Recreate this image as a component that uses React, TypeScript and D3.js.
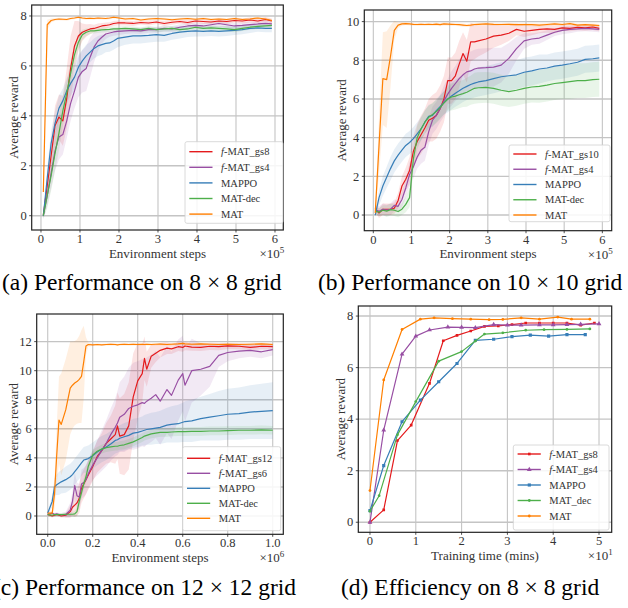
import React, { useEffect, useRef } from 'react'
import * as d3 from 'd3'

const RED = '#e41a1c', PURPLE = '#984ea3', BLUE = '#377eb8', GREEN = '#4daf4a', ORANGE = '#ff7f00'
const FONT = '"Liberation Serif", "Times New Roman", "DejaVu Serif", serif'

// (a) 8x8 grid, environment steps in 1e5
const stepsA = [0.06, 0.16, 0.26, 0.36, 0.46, 0.56, 0.66, 0.76, 0.86, 0.96, 1.06, 1.16, 1.26, 1.36, 1.46, 1.56, 1.66, 1.76, 1.86, 1.96,
  2.16, 2.36, 2.56, 2.76, 2.96, 3.16, 3.36, 3.56, 3.76, 3.96, 4.16, 4.36, 4.56, 4.76, 4.96, 5.16, 5.36, 5.56, 5.76, 5.92]
const gs8A = [0.03, 1.2, 2.4, 3.6, 3.95, 3.8, 4.7, 5.9, 6.8, 7.2, 7.35, 7.42, 7.48, 7.5, 7.55, 7.6, 7.62, 7.65, 7.7, 7.72,
  7.72, 7.7, 7.74, 7.72, 7.76, 7.7, 7.75, 7.78, 7.74, 7.8, 7.78, 7.76, 7.8, 7.78, 7.82, 7.8, 7.84, 7.8, 7.86, 7.8]
const gs8ASd = [0.1, 0.4, 0.6, 0.8, 0.9, 1.0, 1.2, 1.3, 1.0, 0.6, 0.35, 0.25, 0.2, 0.15, 0.15, 0.12, 0.12, 0.1, 0.1, 0.1,
  0.1, 0.1, 0.08, 0.1, 0.08, 0.1, 0.1, 0.08, 0.1, 0.08, 0.1, 0.08, 0.1, 0.1, 0.08, 0.1, 0.1, 0.08, 0.1, 0.1]
const gs4A = [0, 0.8, 1.7, 2.6, 3.15, 3.25, 3.8, 4.5, 5.0, 5.55, 5.78, 5.9, 6.35, 6.75, 7.0, 7.15, 7.28, 7.32, 7.36, 7.38,
  7.4, 7.42, 7.4, 7.45, 7.45, 7.5, 7.48, 7.55, 7.6, 7.62, 7.6, 7.65, 7.7, 7.65, 7.6, 7.62, 7.65, 7.68, 7.7, 7.68]
const gs4ASd = [0.15, 0.4, 0.6, 0.8, 0.9, 0.8, 0.7, 0.7, 0.7, 0.8, 0.85, 0.9, 0.8, 0.6, 0.4, 0.25, 0.2, 0.15, 0.15, 0.15,
  0.12, 0.12, 0.12, 0.12, 0.12, 0.12, 0.12, 0.12, 0.12, 0.12, 0.12, 0.12, 0.12, 0.12, 0.12, 0.12, 0.12, 0.12, 0.12, 0.12]
const mappoA = [0, 1.5, 2.9, 3.7, 4.3, 4.6, 5.0, 5.3, 5.55, 5.95, 6.2, 6.4, 6.55, 6.7, 6.8, 6.85, 6.9, 6.92, 7.0, 7.1,
  7.15, 7.2, 7.2, 7.22, 7.25, 7.22, 7.3, 7.35, 7.38, 7.4, 7.38, 7.4, 7.38, 7.4, 7.42, 7.45, 7.5, 7.52, 7.5, 7.5]
const mappoASd = [0.1, 0.4, 0.5, 0.5, 0.5, 0.5, 0.5, 0.5, 0.5, 0.5, 0.45, 0.45, 0.4, 0.4, 0.4, 0.4, 0.35, 0.35, 0.35, 0.35,
  0.3, 0.3, 0.3, 0.28, 0.28, 0.25, 0.25, 0.25, 0.22, 0.22, 0.2, 0.2, 0.2, 0.2, 0.18, 0.18, 0.18, 0.15, 0.15, 0.15]
const decA = [0, 0.8, 1.6, 2.5, 3.3, 4.2, 4.9, 5.7, 6.45, 6.95, 7.25, 7.35, 7.4, 7.4, 7.42, 7.44, 7.45, 7.46, 7.48, 7.48,
  7.5, 7.48, 7.45, 7.5, 7.45, 7.48, 7.5, 7.45, 7.48, 7.55, 7.5, 7.52, 7.5, 7.48, 7.45, 7.5, 7.55, 7.58, 7.6, 7.62]
const decASd = [0.1, 0.5, 0.6, 0.7, 0.7, 0.6, 0.5, 0.5, 0.4, 0.3, 0.2, 0.15, 0.12, 0.1, 0.1, 0.1, 0.1, 0.1, 0.1, 0.1,
  0.1, 0.1, 0.1, 0.1, 0.1, 0.1, 0.1, 0.1, 0.1, 0.1, 0.1, 0.1, 0.1, 0.1, 0.1, 0.1, 0.1, 0.1, 0.1, 0.1]
const matA = [0.95, 7.65, 7.82, 7.86, 7.88, 7.87, 7.86, 7.9, 7.92, 7.95, 7.92, 7.9, 7.91, 7.9, 7.92, 7.91, 7.9, 7.92, 7.95, 7.93,
  7.88, 7.9, 7.84, 7.88, 7.9, 7.88, 7.85, 7.88, 7.9, 7.87, 7.9, 7.86, 7.88, 7.86, 7.9, 7.86, 7.88, 7.92, 7.88, 7.82]
const matASd = [0.3, 0.2, 0.08, 0.05, 0.05, 0.05, 0.05, 0.05, 0.05, 0.05, 0.05, 0.05, 0.05, 0.05, 0.05, 0.05, 0.05, 0.05, 0.05, 0.05,
  0.05, 0.05, 0.05, 0.05, 0.05, 0.05, 0.05, 0.05, 0.05, 0.05, 0.05, 0.05, 0.05, 0.05, 0.05, 0.05, 0.05, 0.05, 0.05, 0.05]

// (b) 10x10 grid
const stepsB = [0.05, 0.15, 0.25, 0.35, 0.45, 0.55, 0.65, 0.75, 0.85, 0.95, 1.05, 1.15, 1.25, 1.35, 1.45, 1.55, 1.65, 1.75, 1.85, 1.95,
  2.05, 2.15, 2.25, 2.35, 2.45, 2.55, 2.65, 2.75, 2.95, 3.15, 3.35, 3.55, 3.75, 3.95, 4.15, 4.35, 4.55, 4.75, 4.95, 5.15, 5.35, 5.55, 5.75, 5.92]
const gs10B = [0.35, 0.1, 0.3, 0.3, 0.3, 0.35, 0.75, 1.5, 1.85, 2.3, 3.3, 3.8, 4.15, 4.5, 4.9, 5.0, 5.15, 5.5, 6.0, 6.95,
  6.95, 7.2, 7.8, 8.35, 7.95, 8.95, 8.95, 9.0, 9.1, 9.25, 9.3, 9.4, 9.6, 9.5, 9.55, 9.6, 9.62, 9.6, 9.68, 9.65, 9.7, 9.68, 9.72, 9.65]
const gs10BSd = [0.2, 0.25, 0.3, 0.3, 0.3, 0.3, 0.4, 0.5, 0.6, 0.7, 0.8, 0.9, 1.0, 1.0, 1.1, 1.2, 1.2, 1.2, 1.2, 1.2,
  1.2, 1.2, 1.2, 1.1, 1.1, 1.0, 0.9, 0.8, 0.7, 0.6, 0.5, 0.4, 0.3, 0.3, 0.25, 0.2, 0.2, 0.2, 0.15, 0.15, 0.15, 0.15, 0.15, 0.15]
const gs4B = [0.25, 0.2, 0.3, 0.25, 0.3, 0.5, 0.45, 0.8, 1.4, 2.1, 2.5, 3.0, 3.35, 3.5, 4.3, 4.9, 5.15, 5.5, 5.9, 6.25,
  6.55, 6.8, 7.05, 7.25, 7.4, 7.45, 7.55, 7.6, 7.62, 7.65, 7.75, 8.1, 8.6, 9.0, 9.1, 9.15, 9.3, 9.45, 9.55, 9.6, 9.62, 9.65, 9.62, 9.6]
const gs4BSd = [0.2, 0.25, 0.3, 0.3, 0.3, 0.3, 0.3, 0.4, 0.5, 0.6, 0.6, 0.6, 0.7, 0.7, 0.7, 0.7, 0.7, 0.7, 0.8, 0.8,
  0.9, 0.9, 1.0, 1.0, 1.0, 1.0, 1.0, 1.0, 1.0, 1.0, 0.9, 0.8, 0.6, 0.4, 0.3, 0.3, 0.25, 0.2, 0.2, 0.2, 0.15, 0.15, 0.15, 0.15]
const mappoB = [0, 0.9, 1.5, 1.95, 2.4, 2.8, 3.1, 3.35, 3.6, 3.75, 3.95, 4.2, 4.45, 4.8, 5.1, 5.15, 5.4, 5.6, 5.8, 6.0,
  6.15, 6.3, 6.42, 6.55, 6.65, 6.75, 6.82, 6.88, 6.95, 7.05, 7.15, 7.2, 7.25, 7.38, 7.45, 7.55, 7.6, 7.7, 7.75, 7.82, 7.9, 8.05, 8.08, 8.12]
const mappoBSd = [0.1, 0.4, 0.5, 0.55, 0.6, 0.6, 0.6, 0.6, 0.6, 0.6, 0.6, 0.6, 0.6, 0.6, 0.6, 0.6, 0.6, 0.6, 0.6, 0.7,
  0.7, 0.7, 0.7, 0.7, 0.7, 0.75, 0.75, 0.75, 0.75, 0.75, 0.75, 0.75, 0.75, 0.75, 0.75, 0.75, 0.7, 0.7, 0.7, 0.7, 0.7, 0.7, 0.7, 0.7]
const decB = [0.2, 0.15, 0.25, 0.2, 0.28, 0.25, 0.18, 0.3, 0.55, 0.9, 2.9, 4.0, 4.45, 4.8, 5.05, 5.2, 5.35, 5.55, 5.8, 6.0,
  6.1, 6.15, 6.22, 6.28, 6.35, 6.45, 6.55, 6.58, 6.6, 6.55, 6.45, 6.38, 6.45, 6.55, 6.62, 6.65, 6.72, 6.8, 6.85, 6.9, 6.95, 6.95, 7.0, 7.02]
const decBSd = [0.15, 0.2, 0.25, 0.3, 0.3, 0.3, 0.3, 0.3, 0.4, 0.5, 0.6, 0.6, 0.6, 0.6, 0.6, 0.6, 0.6, 0.6, 0.6, 0.6,
  0.7, 0.7, 0.7, 0.7, 0.75, 0.75, 0.8, 0.8, 0.8, 0.8, 0.8, 0.8, 0.8, 0.8, 0.8, 0.85, 0.85, 0.85, 0.85, 0.9, 0.9, 0.9, 0.9, 0.9]
const matB = [0.1, 3.6, 7.05, 7.0, 8.2, 9.55, 9.82, 9.88, 9.9, 9.88, 9.86, 9.85, 9.86, 9.85, 9.86, 9.85, 9.87, 9.84, 9.88, 9.87,
  9.86, 9.85, 9.84, 9.82, 9.8, 9.82, 9.85, 9.86, 9.88, 9.86, 9.85, 9.86, 9.84, 9.85, 9.84, 9.82, 9.85, 9.88, 9.85, 9.9, 9.82, 9.84, 9.82, 9.8]
const matBSd = [0.1, 1.5, 2.4, 2.5, 1.6, 0.5, 0.15, 0.1, 0.08, 0.08, 0.08, 0.08, 0.08, 0.08, 0.08, 0.08, 0.08, 0.08, 0.08, 0.08,
  0.08, 0.08, 0.08, 0.08, 0.08, 0.08, 0.08, 0.08, 0.08, 0.08, 0.08, 0.08, 0.08, 0.08, 0.08, 0.08, 0.08, 0.08, 0.08, 0.08, 0.08, 0.08, 0.08, 0.08]

// (c) 12x12 grid, environment steps in 1e6
const stepsC = [0.0, 0.02, 0.03, 0.04, 0.05, 0.06, 0.08, 0.10, 0.11, 0.12, 0.13, 0.14, 0.15, 0.16, 0.17, 0.18,
  0.20, 0.22, 0.24, 0.26, 0.28, 0.30, 0.31, 0.32, 0.34, 0.36, 0.38, 0.40, 0.42, 0.43, 0.44, 0.46,
  0.48, 0.50, 0.53, 0.55, 0.58, 0.60, 0.61, 0.64, 0.68, 0.72, 0.76, 0.80, 0.85, 0.90, 0.95, 1.0]
const gs12C = [0.1, 0.0, 0.05, 0.1, 0.05, 0.0, 0.05, 0.3, 0.6, 0.75, 0.9, 1.2, 1.9, 2.2, 2.5, 2.8,
  3.4, 4.1, 4.5, 5.0, 5.3, 5.6, 6.2, 5.5, 5.6, 6.2, 8.2, 9.3, 9.8, 10.85, 10.1, 11.0,
  11.2, 11.4, 11.55, 11.5, 11.65, 11.6, 11.7, 11.62, 11.6, 11.68, 11.65, 11.7, 11.68, 11.6, 11.68, 11.65]
const gs12CSd = [0.1, 0.1, 0.1, 0.1, 0.1, 0.1, 0.15, 0.4, 0.6, 0.8, 0.9, 1.0, 1.0, 1.0, 1.0, 1.0,
  1.0, 1.1, 1.2, 1.4, 1.6, 2.0, 2.3, 2.6, 2.8, 3.0, 3.0, 2.6, 2.0, 1.5, 1.2, 0.8,
  0.6, 0.5, 0.4, 0.35, 0.3, 0.3, 0.3, 0.25, 0.25, 0.25, 0.25, 0.2, 0.2, 0.2, 0.2, 0.2]
const gs6C = [0.1, 0.2, 0.1, 0.15, 0.1, 0.1, 0.1, 0.4, 1.0, 2.1, 1.4, 1.3, 2.2, 2.3, 2.5, 2.9,
  3.5, 4.0, 4.5, 5.0, 5.6, 6.1, 6.4, 6.8, 7.0, 7.4, 7.55, 7.65, 7.8, 7.75, 7.9, 8.1,
  8.35, 7.9, 8.7, 8.3, 9.35, 9.8, 9.0, 10.0, 10.1, 10.3, 11.05, 11.25, 11.35, 11.4, 11.3, 11.45]
const gs6CSd = [0.1, 0.1, 0.1, 0.1, 0.1, 0.1, 0.2, 0.5, 0.7, 0.9, 0.9, 0.9, 1.0, 1.0, 1.0, 1.0,
  1.0, 1.2, 1.4, 1.6, 1.8, 2.0, 2.2, 2.4, 2.6, 2.8, 3.0, 3.0, 3.0, 3.0, 3.0, 3.0,
  3.0, 3.0, 3.0, 3.0, 2.8, 2.6, 2.5, 2.2, 1.8, 1.4, 0.8, 0.6, 0.5, 0.45, 0.45, 0.4]
const mappoC = [0.2, 1.0, 2.0, 2.15, 2.25, 2.35, 2.5, 2.7, 2.85, 3.05, 3.25, 3.45, 3.65, 3.85, 3.9, 3.95,
  4.15, 4.4, 4.6, 4.75, 4.95, 5.2, 5.25, 5.35, 5.45, 5.55, 5.7, 5.75, 5.85, 5.9, 5.95, 6.0,
  6.05, 6.1, 6.25, 6.3, 6.35, 6.45, 6.5, 6.55, 6.7, 6.8, 6.9, 7.0, 7.05, 7.15, 7.2, 7.25]
const mappoCSd = [0.1, 0.4, 0.6, 0.7, 0.8, 0.8, 0.9, 0.9, 0.9, 0.9, 0.9, 0.9, 0.9, 0.9, 0.9, 0.9,
  0.9, 0.9, 0.9, 0.9, 0.9, 0.9, 0.9, 0.9, 0.95, 0.95, 1.0, 1.0, 1.0, 1.05, 1.05, 1.1,
  1.1, 1.15, 1.2, 1.25, 1.3, 1.35, 1.4, 1.45, 1.5, 1.6, 1.7, 1.75, 1.8, 1.85, 1.9, 1.95]
const decC = [0.1, 0.05, 0.1, 0.1, 0.1, 0.1, 0.12, 0.12, 0.12, 0.15, 0.3, 1.0, 1.6, 2.2, 2.7, 3.4,
  4.2, 4.45, 4.6, 4.7, 4.75, 4.8, 4.8, 4.85, 4.9, 5.0, 5.1, 5.25, 5.4, 5.5, 5.55, 5.65,
  5.7, 5.75, 5.75, 5.78, 5.8, 5.8, 5.8, 5.82, 5.82, 5.85, 5.85, 5.88, 5.9, 5.9, 5.92, 5.9]
const decCSd = [0.1, 0.1, 0.1, 0.1, 0.1, 0.1, 0.1, 0.1, 0.15, 0.2, 0.3, 0.4, 0.4, 0.4, 0.4, 0.4,
  0.35, 0.3, 0.3, 0.3, 0.3, 0.3, 0.3, 0.3, 0.3, 0.3, 0.3, 0.3, 0.3, 0.3, 0.3, 0.3,
  0.3, 0.3, 0.3, 0.3, 0.3, 0.3, 0.3, 0.3, 0.3, 0.3, 0.3, 0.3, 0.3, 0.3, 0.3, 0.3]
const matC = [0.2, 0.2, 1.5, 4.2, 6.6, 6.3, 7.3, 8.8, 9.0, 9.15, 9.25, 9.4, 9.6, 10.6, 11.7, 11.8,
  11.78, 11.8, 11.78, 11.8, 11.82, 11.8, 11.78, 11.8, 11.82, 11.8, 11.82, 11.8, 11.82, 11.8, 11.82, 11.8,
  11.82, 11.83, 11.8, 11.82, 11.85, 11.88, 11.85, 11.82, 11.85, 11.82, 11.8, 11.82, 11.8, 11.82, 11.85, 11.8]
const matCSd = [0.1, 0.2, 1.0, 2.0, 3.0, 3.5, 3.5, 3.2, 3.0, 2.9, 2.9, 3.0, 3.2, 2.5, 0.6, 0.15,
  0.08, 0.08, 0.08, 0.08, 0.08, 0.08, 0.08, 0.08, 0.08, 0.08, 0.08, 0.08, 0.08, 0.08, 0.08, 0.08,
  0.08, 0.08, 0.08, 0.08, 0.08, 0.08, 0.08, 0.08, 0.08, 0.08, 0.08, 0.08, 0.08, 0.08, 0.08, 0.08]

// (d) efficiency on 8x8, training time in 10 mins
const timeGs8D = [0, 0.3, 0.6, 0.9, 1.3, 1.6, 1.9, 2.2, 2.5, 2.8, 3.1, 3.4, 3.7, 4.0, 4.3, 4.6, 4.9]
const gs8D = [0, 0.48, 3.17, 3.77, 5.39, 7.04, 7.25, 7.42, 7.6, 7.62, 7.67, 7.73, 7.73, 7.73, 7.73, 7.65, 7.73]
const timeGs4D = [0, 0.3, 0.7, 1.0, 1.3, 1.7, 2.0, 2.3, 2.7, 3.0, 3.3, 3.7, 4.0, 4.3, 4.6, 5.0]
const gs4D = [0, 3.57, 6.52, 7.22, 7.46, 7.57, 7.56, 7.55, 7.67, 7.65, 7.65, 7.66, 7.66, 7.67, 7.68, 7.7]
const timeMappoD = [0, 0.3, 0.7, 1.1, 1.5, 1.9, 2.3, 2.7, 3.1, 3.5, 3.9, 4.3, 4.7]
const mappoD = [0.45, 2.2, 3.9, 4.74, 5.45, 6.16, 7.06, 7.1, 7.2, 7.26, 7.22, 7.28, 7.28]
const timeDecD = [0, 0.2, 0.6, 1.0, 1.5, 2.0, 2.3, 2.5, 2.9, 3.4, 3.8, 4.3, 4.8]
const decD = [0.43, 1.03, 3.39, 4.68, 6.25, 6.62, 7.03, 7.3, 7.35, 7.45, 7.47, 7.48, 7.5]
const timeMatD = [0, 0.3, 0.7, 1.1, 1.4, 1.8, 2.2, 2.6, 2.9, 3.3, 3.7, 4.1, 4.4, 4.8]
const matD = [1.23, 5.52, 7.48, 7.88, 7.93, 7.9, 7.88, 7.86, 7.87, 7.93, 7.88, 7.96, 7.88, 7.88]

const captions = [
  { text: '(a) Performance on 8 × 8 grid', x: 2, y: 290 },
  { text: '(b) Performance on 10 × 10 grid', x: 318, y: 290 },
  { text: '(c) Performance on 12 × 12 grid', x: -7, y: 595 },
  { text: '(d) Efficiency on 8 × 8 grid', x: 341, y: 595 },
]

const panels = [
  {
    id: 'a', l: 31.7, t: 5, r: 283.3, b: 230, xDom: [-0.238, 6.213], yDom: [-0.573, 8.44],
    xTicks: [0, 1, 2, 3, 4, 5, 6], yTicks: [0, 2, 4, 6, 8], fmt: d3.format('d'),
    xLabel: 'Environment steps', expo: '5', yLabelX: 13.5,
    legend: { l: 185, t: 141.7, w: 98, h: 81.6, row0: 10, dy: 15.6 },
    series: [
      { label: 'f-MAT_gs8', color: RED, xs: stepsA, ys: gs8A, sd: gs8ASd },
      { label: 'f-MAT_gs4', color: PURPLE, xs: stepsA, ys: gs4A, sd: gs4ASd },
      { label: 'MAPPO', color: BLUE, xs: stepsA, ys: mappoA, sd: mappoASd },
      { label: 'MAT-dec', color: GREEN, xs: stepsA, ys: decA, sd: decASd },
      { label: 'MAT', color: ORANGE, xs: stepsA, ys: matA, sd: matASd },
    ],
  },
  {
    id: 'b', l: 364.3, t: 10, r: 611.7, b: 230.7, xDom: [-0.236, 6.245], yDom: [-0.81, 10.6],
    xTicks: [0, 1, 2, 3, 4, 5, 6], yTicks: [0, 2, 4, 6, 8, 10], fmt: d3.format('d'),
    xLabel: 'Environment steps', expo: '5', yLabelX: 341.7,
    legend: { l: 509, t: 145, w: 101, h: 76.7, row0: 9, dy: 15.25 },
    series: [
      { label: 'f-MAT_gs10', color: RED, xs: stepsB, ys: gs10B, sd: gs10BSd },
      { label: 'f-MAT_gs4', color: PURPLE, xs: stepsB, ys: gs4B, sd: gs4BSd },
      { label: 'MAPPO', color: BLUE, xs: stepsB, ys: mappoB, sd: mappoBSd },
      { label: 'MAT-dec', color: GREEN, xs: stepsB, ys: decB, sd: decBSd },
      { label: 'MAT', color: ORANGE, xs: stepsB, ys: matB, sd: matBSd },
    ],
  },
  {
    id: 'c', l: 36.7, t: 314, r: 283.3, b: 534.3, xDom: [-0.049, 1.047], yDom: [-1.26, 13.9],
    xTicks: [0, 0.2, 0.4, 0.6, 0.8, 1.0], yTicks: [0, 2, 4, 6, 8, 10, 12], fmt: d3.format('.1f'),
    xLabel: 'Environment steps', expo: '6', yLabelX: 13.5,
    legend: { l: 182.7, t: 446.7, w: 98, h: 84, row0: 11.6, dy: 15 },
    series: [
      { label: 'f-MAT_gs12', color: RED, xs: stepsC, ys: gs12C, sd: gs12CSd },
      { label: 'f-MAT_gs6', color: PURPLE, xs: stepsC, ys: gs6C, sd: gs6CSd },
      { label: 'MAPPO', color: BLUE, xs: stepsC, ys: mappoC, sd: mappoCSd },
      { label: 'MAT-dec', color: GREEN, xs: stepsC, ys: decC, sd: decCSd },
      { label: 'MAT', color: ORANGE, xs: stepsC, ys: matC, sd: matCSd },
    ],
  },
  {
    id: 'd', l: 358.3, t: 306, r: 611.7, b: 532.3, xDom: [-0.255, 5.277], yDom: [-0.39, 8.39],
    xTicks: [0, 1, 2, 3, 4, 5], yTicks: [0, 2, 4, 6, 8], fmt: d3.format('d'),
    xLabel: 'Training time (mins)', expo: '1', yLabelX: 340.7,
    legend: { l: 513.3, t: 445, w: 95.7, h: 85, row0: 9, dy: 15.5 },
    series: [
      { label: 'f-MAT_gs8', color: RED, xs: timeGs8D, ys: gs8D, marker: d3.symbolSquare, msize: 7 },
      { label: 'f-MAT_gs4', color: PURPLE, xs: timeGs4D, ys: gs4D, marker: d3.symbolTriangle, msize: 10 },
      { label: 'MAPPO', color: BLUE, xs: timeMappoD, ys: mappoD, marker: d3.symbolSquare, msize: 10 },
      { label: 'MAT_dec', color: GREEN, xs: timeDecD, ys: decD, marker: d3.symbolCircle, msize: 6 },
      { label: 'MAT', color: ORANGE, xs: timeMatD, ys: matD, marker: d3.symbolCircle, msize: 6 },
    ],
  },
]

function addLabel(sel: any, label: string) {
  if (label.startsWith('f-')) {
    sel.append('tspan').attr('font-style', 'italic').text('f')
    sel.append('tspan').text(label.slice(1))
  } else sel.text(label)
}

function drawPanel(svg: any, p: any) {
  const x = d3.scaleLinear().domain(p.xDom).range([p.l, p.r])
  const y = d3.scaleLinear().domain(p.yDom).range([p.b, p.t])
  const g = svg.append('g').attr('font-family', FONT)
  svg.append('clipPath').attr('id', 'clip-' + p.id)
    .append('rect').attr('x', p.l).attr('y', p.t).attr('width', p.r - p.l).attr('height', p.b - p.t)

  // grid
  g.selectAll('.gx').data(p.xTicks).join('line')
    .attr('x1', (d: number) => x(d)).attr('x2', (d: number) => x(d)).attr('y1', p.t).attr('y2', p.b)
    .attr('stroke', '#c4c4c4').attr('stroke-width', 1.1)
  g.selectAll('.gy').data(p.yTicks).join('line')
    .attr('y1', (d: number) => y(d)).attr('y2', (d: number) => y(d)).attr('x1', p.l).attr('x2', p.r)
    .attr('stroke', '#c4c4c4').attr('stroke-width', 1.4)

  const plot = g.append('g').attr('clip-path', `url(#clip-${p.id})`)
  p.series.forEach((s: any) => {
    if (!s.sd) return
    const area = d3.area<number>()
      .x((_, i) => x(s.xs[i]))
      .y0((_, i) => y(s.ys[i] - s.sd[i]))
      .y1((_, i) => y(s.ys[i] + s.sd[i]))
    plot.append('path').datum(s.ys).attr('d', area).attr('fill', s.color).attr('opacity', 0.12)
  })
  p.series.forEach((s: any) => {
    const line = d3.line<number>().x((_, i) => x(s.xs[i])).y(d => y(d))
    plot.append('path').datum(s.ys).attr('d', line).attr('fill', 'none')
      .attr('stroke', s.color).attr('stroke-width', 1.2).attr('stroke-linejoin', 'round')
    if (s.marker) {
      const sym = d3.symbol().type(s.marker).size(s.msize)
      plot.selectAll(null).data(s.ys).join('path')
        .attr('d', sym)
        .attr('transform', (d: number, i: number) => `translate(${x(s.xs[i])},${y(d)})`)
        .attr('fill', s.color)
    }
  })

  // frame
  g.append('rect').attr('x', p.l).attr('y', p.t).attr('width', p.r - p.l).attr('height', p.b - p.t)
    .attr('fill', 'none').attr('stroke', '#222').attr('stroke-width', 1.2)

  // ticks
  g.selectAll('.tx').data(p.xTicks).join('line')
    .attr('x1', (d: number) => x(d)).attr('x2', (d: number) => x(d)).attr('y1', p.b).attr('y2', p.b + 2.5)
    .attr('stroke', '#222').attr('stroke-width', 0.8)
  g.selectAll('.ty').data(p.yTicks).join('line')
    .attr('y1', (d: number) => y(d)).attr('y2', (d: number) => y(d)).attr('x1', p.l - 2.5).attr('x2', p.l)
    .attr('stroke', '#222').attr('stroke-width', 0.8)
  g.selectAll('.lx').data(p.xTicks).join('text')
    .attr('x', (d: number) => x(d)).attr('y', p.b + 13).attr('text-anchor', 'middle')
    .attr('font-size', 12.5).attr('fill', '#333').text((d: number) => p.fmt(d))
  g.selectAll('.ly').data(p.yTicks).join('text')
    .attr('x', p.l - 5).attr('y', (d: number) => y(d)).attr('dy', '0.34em').attr('text-anchor', 'end')
    .attr('font-size', 12.5).attr('fill', '#333').text((d: number) => d3.format('d')(d))

  // axis labels
  g.append('text').attr('x', (p.l + p.r) / 2).attr('y', p.b + 27.5).attr('text-anchor', 'middle')
    .attr('font-size', 13).attr('fill', '#333').text(p.xLabel)
  const ex = g.append('text').attr('x', p.r + 1).attr('y', p.b + 28).attr('text-anchor', 'end')
    .attr('font-size', 13).attr('fill', '#333')
  ex.append('tspan').text('×10')
  ex.append('tspan').attr('dy', -5).attr('font-size', 9).text(p.expo)
  g.append('text').attr('transform', `translate(${p.yLabelX},${(p.t + p.b) / 2}) rotate(-90)`)
    .attr('text-anchor', 'middle').attr('dy', '0.35em').attr('font-size', 13).attr('fill', '#333')
    .text('Average reward')

  // legend
  const lg = p.legend
  g.append('rect').attr('x', lg.l).attr('y', lg.t).attr('width', lg.w).attr('height', lg.h).attr('rx', 2)
    .attr('fill', 'white').attr('fill-opacity', 0.85).attr('stroke', '#d0d0d0').attr('stroke-width', 0.8)
  p.series.forEach((s: any, i: number) => {
    const yy = lg.t + lg.row0 + i * lg.dy
    g.append('line').attr('x1', lg.l + 4.3).attr('x2', lg.l + 27.5).attr('y1', yy).attr('y2', yy)
      .attr('stroke', s.color).attr('stroke-width', 1.4)
    if (s.marker) {
      g.append('path').attr('d', d3.symbol().type(s.marker).size(s.msize)())
        .attr('transform', `translate(${lg.l + 16},${yy})`).attr('fill', s.color)
    }
    const t = g.append('text').attr('x', lg.l + 36).attr('y', yy + 3.6).attr('font-size', 10.5).attr('fill', '#333')
    addLabel(t, s.label)
  })
}

export default function App() {
  const ref = useRef<SVGSVGElement>(null)
  useEffect(() => {
    document.body.style.margin = '0'
    const svg = d3.select(ref.current)
    svg.selectAll('*').remove()
    panels.forEach(p => drawPanel(svg, p))
    svg.selectAll('.cap').data(captions).join('text')
      .attr('font-family', FONT)
      .attr('x', d => d.x).attr('y', d => d.y).attr('font-size', 23.5).attr('fill', '#000')
      .text(d => d.text)
  }, [])
  return (
    <svg ref={ref} width={628} height={608} style={{ display: 'block', background: 'white' }} />
  )
}
